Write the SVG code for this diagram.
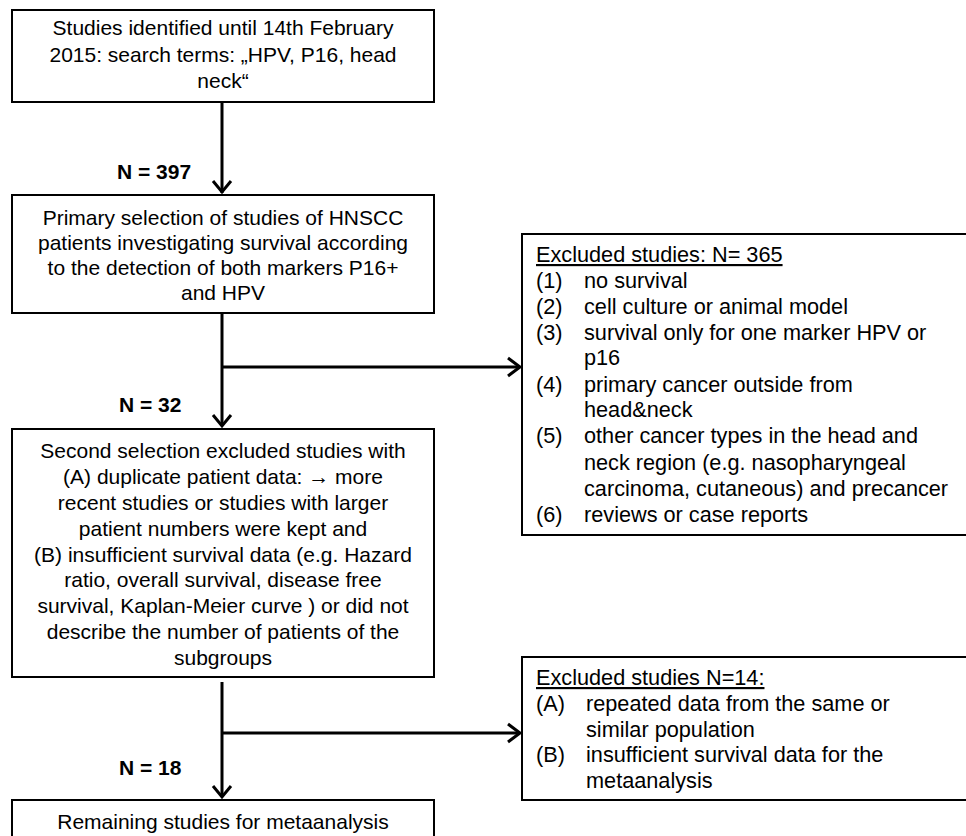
<svg xmlns="http://www.w3.org/2000/svg" width="966" height="836" viewBox="0 0 966 836">
<style>
.box{fill:#fff;stroke:#000;stroke-width:2}
.t{font-family:"Liberation Sans",Arial,sans-serif;font-size:21px;fill:#000}
.x{font-size:21.7px}
.c{text-anchor:middle}
.b{font-weight:bold}
.ln{fill:none;stroke:#000;stroke-width:3}
.hd{fill:none;stroke:#000;stroke-width:3;stroke-linejoin:miter}
</style>
<rect width="966" height="836" fill="#fff"/>
<g id="connectors">
<line class="ln" x1="222" y1="103" x2="222" y2="193"/>
<path class="hd" d="M213,181 L222,192 L231,181"/>
<line class="ln" x1="222" y1="314" x2="222" y2="426"/>
<path class="hd" d="M213,415 L222,426 L231,415"/>
<line class="ln" x1="222" y1="367" x2="520" y2="367"/>
<path class="hd" d="M508,358 L520,367 L508,376"/>
<line class="ln" x1="222" y1="682" x2="222" y2="797"/>
<path class="hd" d="M213,786 L222,797 L231,786"/>
<line class="ln" x1="222" y1="733" x2="520" y2="733"/>
<path class="hd" d="M508,724 L520,733 L508,742"/>
</g>
<g id="lbl397"><text class="t b" x="117" y="179">N = 397</text></g>
<g id="lbl32"><text class="t b" x="119" y="412">N = 32</text></g>
<g id="lbl18"><text class="t b" x="119" y="775">N = 18</text></g>
<g id="n1">
<rect class="box" x="12" y="10" width="422" height="92"/>
<text class="t c" x="223" y="35">Studies identified until 14th February</text>
<text class="t c" x="223" y="62">2015: search terms: „HPV, P16, head</text>
<text class="t c" x="223" y="88">neck“</text>
</g>
<g id="n2">
<rect class="box" x="12" y="195" width="422" height="118"/>
<text class="t c" x="223" y="225">Primary selection of studies of HNSCC</text>
<text class="t c" x="223" y="250">patients investigating survival according</text>
<text class="t c" x="223" y="275">to the detection of both markers P16+</text>
<text class="t c" x="223" y="300">and HPV</text>
</g>
<g id="n3">
<rect class="box" x="12" y="429" width="422" height="248"/>
<text class="t c" x="223" y="458">Second selection excluded studies with</text>
<text class="t c" x="223" y="484">(A) duplicate patient data: → more</text>
<text class="t c" x="223" y="510">recent studies or studies with larger</text>
<text class="t c" x="223" y="536">patient numbers were kept and</text>
<text class="t c" x="223" y="562">(B) insufficient survival data (e.g. Hazard</text>
<text class="t c" x="223" y="587">ratio, overall survival, disease free</text>
<text class="t c" x="223" y="613">survival, Kaplan-Meier curve ) or did not</text>
<text class="t c" x="223" y="639">describe the number of patients of the</text>
<text class="t c" x="223" y="665">subgroups</text>
</g>
<g id="n4">
<rect class="box" x="12" y="800" width="422" height="60"/>
<text class="t c" x="223" y="829">Remaining studies for metaanalysis</text>
</g>
<g id="ex1">
<rect class="box" x="522" y="234" width="460" height="301"/>
<text class="t x" x="536" y="262" text-decoration="underline">Excluded studies: N= 365</text>
<text class="t x" x="536" y="288">(1)</text><text class="t x" x="584" y="288">no survival</text>
<text class="t x" x="536" y="314">(2)</text><text class="t x" x="584" y="314">cell culture or animal model</text>
<text class="t x" x="536" y="340">(3)</text><text class="t x" x="584" y="340">survival only for one marker HPV or</text>
<text class="t x" x="584" y="365">p16</text>
<text class="t x" x="536" y="392">(4)</text><text class="t x" x="584" y="392">primary cancer outside from</text>
<text class="t x" x="584" y="417">head&amp;neck</text>
<text class="t x" x="536" y="443">(5)</text><text class="t x" x="584" y="443">other cancer types in the head and</text>
<text class="t x" x="584" y="470">neck region (e.g. nasopharyngeal</text>
<text class="t x" x="584" y="496">carcinoma, cutaneous) and precancer</text>
<text class="t x" x="536" y="522">(6)</text><text class="t x" x="584" y="522">reviews or case reports</text>
</g>
<g id="ex2">
<rect class="box" x="522" y="657" width="460" height="143"/>
<text class="t x" x="536" y="685" text-decoration="underline">Excluded studies N=14:</text>
<text class="t x" x="536" y="711">(A)</text><text class="t x" x="586" y="711">repeated data from the same or</text>
<text class="t x" x="586" y="737">similar population</text>
<text class="t x" x="536" y="762">(B)</text><text class="t x" x="586" y="762">insufficient survival data for the</text>
<text class="t x" x="586" y="788">metaanalysis</text>
</g>
</svg>
